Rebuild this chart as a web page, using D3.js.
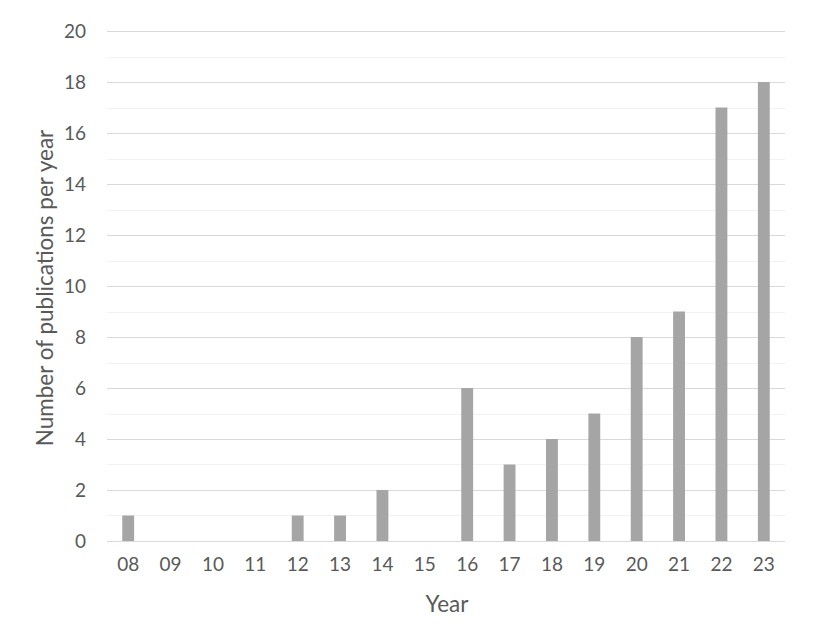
<!DOCTYPE html>
<html lang="en">
<head>
<meta charset="utf-8">
<title>Publications per year</title>
<script src="https://d3js.org/d3.v7.min.js"></script>
<style>
  body { margin: 0; background: white; }
  text { font-family: Lato, "Open Sans", sans-serif; fill: #595959; }
</style>
</head>
<body>
<div id="my_dataviz"></div>
<script>

// data
var years = ["08","09","10","11","12","13","14","15","16","17","18","19","20","21","22","23"]
var counts = [1,0,0,0,1,1,2,0,6,3,4,5,8,9,17,18]
var yTicks = [0,2,4,6,8,10,12,14,16,18,20]

var width = 830
var height = 642
var margin = {top: 31, right: 45, bottom: 101, left: 107}

var svg = d3.select("#my_dataviz")
  .append("svg")
    .attr("width", width)
    .attr("height", height)

var x = d3.scaleBand()
  .domain(years)
  .range([margin.left, width - margin.right])
  .paddingInner(0.72)
  .paddingOuter(0.36)

var y = d3.scaleLinear()
  .domain([0, 20])
  .range([height - margin.bottom, margin.top])

// minor gridlines (odd values), lighter
svg.append("g")
  .selectAll("line")
  .data(d3.range(1, 20, 2))
  .enter()
  .append("line")
    .attr("x1", margin.left)
    .attr("x2", width - margin.right)
    .attr("y1", function(d){ return Math.round(y(d)) + 0.5 })
    .attr("y2", function(d){ return Math.round(y(d)) + 0.5 })
    .attr("stroke", "#f2f2f2")
    .attr("stroke-width", 1)

// major gridlines
svg.append("g")
  .selectAll("line")
  .data(yTicks)
  .enter()
  .append("line")
    .attr("x1", margin.left)
    .attr("x2", width - margin.right)
    .attr("y1", function(d){ return Math.round(y(d)) + 0.5 })
    .attr("y2", function(d){ return Math.round(y(d)) + 0.5 })
    .attr("stroke", "#d9d9d9")
    .attr("stroke-width", 1)

// bars
svg.append("g")
  .selectAll("rect")
  .data(counts)
  .enter()
  .append("rect")
    .attr("x", function(d, i){ return x(years[i]) })
    .attr("width", x.bandwidth())
    .attr("y", function(d){ return y(d) })
    .attr("height", function(d){ return y(0) - y(d) })
    .attr("fill", "#a5a5a5")

// y axis labels
var yAxis = svg.append("g")
  .attr("transform", "translate(86,0)")
  .call(d3.axisLeft(y).tickValues(yTicks).tickSize(0).tickPadding(0))
yAxis.select(".domain").remove()
yAxis.selectAll("text").style("font-size", "19px").attr("fill", "#595959")

// x axis labels
var xAxis = svg.append("g")
  .attr("transform", "translate(0,557)")
  .call(d3.axisBottom(x).tickSize(0).tickPadding(0))
xAxis.select(".domain").remove()
xAxis.selectAll("text").style("font-size", "19px").attr("fill", "#595959")

// axis titles
svg.append("text")
  .attr("x", 447)
  .attr("y", 612)
  .attr("text-anchor", "middle")
  .style("font-size", "22.5px")
  .text("Year")

svg.append("text")
  .attr("transform", "translate(53,288) rotate(-90)")
  .attr("text-anchor", "middle")
  .style("font-size", "22.5px")
  .text("Number of publications per year")

</script>
</body>
</html>
